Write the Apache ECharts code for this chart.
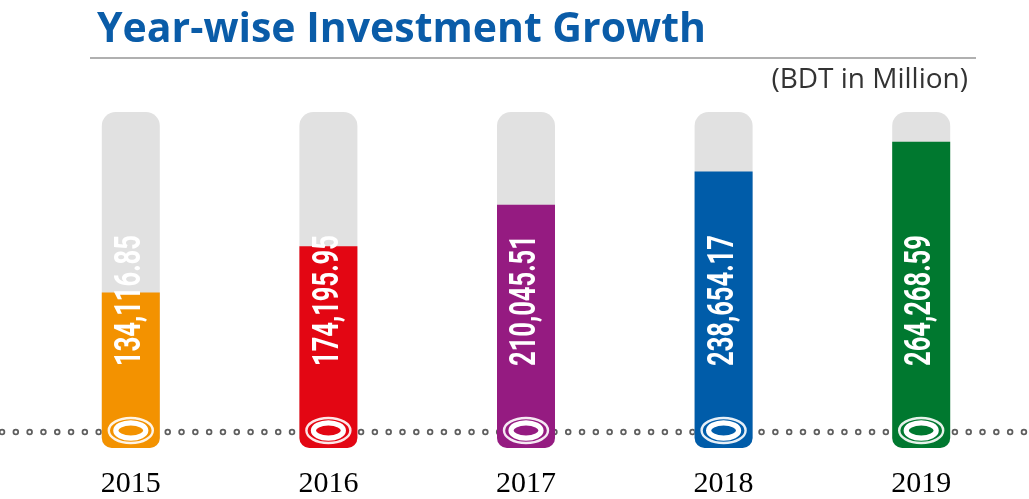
<!DOCTYPE html>
<html>
<head>
<meta charset="utf-8">
<script src="https://cdn.jsdelivr.net/npm/echarts@6/dist/echarts.min.js"></script>
<style>
  html, body { margin: 0; padding: 0; background: #fff; }
  #growthChart { width: 1029px; height: 499px; }
</style>
</head>
<body>
<div id="growthChart"></div>
<script>
// values (BDT in million)
const years = ['2015', '2016', '2017', '2018', '2019']
const investment = [134116.85, 174195.95, 210045.51, 238654.17, 264268.59]
const barColors = ['#f39200', '#e30613', '#951b81', '#005ca9', '#00782f']
const scaleMax = 290000

const chartInstance = echarts.init(document.getElementById('growthChart'))

function fmt(v) {
  return v.toLocaleString('en-US', {minimumFractionDigits: 2, maximumFractionDigits: 2})
}

// ring at the foot of each bar + the condensed vertical value text
function renderFoot(params, api) {
  const i = api.value(0)
  const base = api.coord([i, 0])
  const cx = base[0]
  const cy = base[1] - 17.5
  const col = barColors[i]
  return {
    type: 'group',
    children: [
      {
        type: 'ellipse',
        shape: {cx: cx, cy: cy, rx: 22, ry: 12.5},
        style: {fill: 'none', stroke: 'rgba(255,255,255,0.9)', lineWidth: 2.4}
      },
      {
        type: 'ellipse',
        shape: {cx: cx, cy: cy, rx: 15, ry: 7.6},
        style: {fill: col, stroke: '#fff', lineWidth: 5.2}
      },
      {
        type: 'text',
        x: cx,
        y: base[1] - 82,
        rotation: Math.PI / 2,
        scaleX: 0.69,
        style: {
          text: fmt(api.value(1)),
          fill: '#fff',
          font: 'bold 37px Roboto',
          align: 'left',
          verticalAlign: 'middle'
        }
      }
    ]
  }
}

const option = {
  animation: false,
  title: [
    {
      text: 'Year-wise Investment Growth',
      left: 92,
      top: 5,
      textStyle: {
        fontFamily: 'Open Sans',
        fontSize: 41,
        fontWeight: 'bold',
        color: '#0a5ca8'
      }
    },
    {
      text: '(BDT in Million)',
      right: 56,
      top: 61,
      textStyle: {
        fontFamily: 'Open Sans',
        fontSize: 28,
        fontWeight: 'normal',
        color: '#333'
      }
    }
  ],
  graphic: [
    {
      type: 'line',
      shape: {x1: 90, y1: 58, x2: 976, y2: 58},
      style: {stroke: '#b0b0b0', lineWidth: 2}
    },
    // dotted baseline: grey round dots with a white core
    {
      type: 'line',
      z: -1,
      shape: {x1: 2, y1: 432, x2: 1029, y2: 432},
      style: {stroke: '#5e5e5e', lineWidth: 6.5, lineCap: 'round', lineDash: [0.01, 13.8]}
    },
    {
      type: 'line',
      z: -1,
      shape: {x1: 2, y1: 432, x2: 1029, y2: 432},
      style: {stroke: '#fff', lineWidth: 3, lineCap: 'round', lineDash: [0.01, 13.8]}
    }
  ],
  grid: {
    left: 32,
    right: 9,
    top: 112,
    bottom: 49
  },
  xAxis: {
    type: 'category',
    data: years,
    axisLine: {show: false},
    axisTick: {show: false},
    axisLabel: {
      margin: 21,
      fontFamily: 'Liberation Serif',
      fontSize: 30,
      color: '#000'
    }
  },
  yAxis: {
    type: 'value',
    min: 0,
    max: scaleMax,
    show: false,
    splitLine: {show: false}
  },
  series: [
    {
      name: 'track',
      type: 'bar',
      barWidth: 58,
      barGap: '-100%',
      silent: true,
      data: years.map(() => scaleMax),
      itemStyle: {color: '#e1e1e1', borderRadius: [14, 14, 10, 10]}
    },
    {
      name: 'Investment',
      type: 'bar',
      barWidth: 58,
      barGap: '-100%',
      data: investment.map((v, i) => ({value: v, itemStyle: {color: barColors[i]}})),
      itemStyle: {borderRadius: [0, 0, 10, 10]}
    },
    {
      name: 'foot',
      type: 'custom',
      silent: true,
      z: 5,
      renderItem: renderFoot,
      encode: {x: 0, y: 1},
      data: investment.map((v, i) => [i, v])
    }
  ]
}

chartInstance.setOption(option)
window.onresize = function () {
  chartInstance.resize()
}
</script>
</body>
</html>
